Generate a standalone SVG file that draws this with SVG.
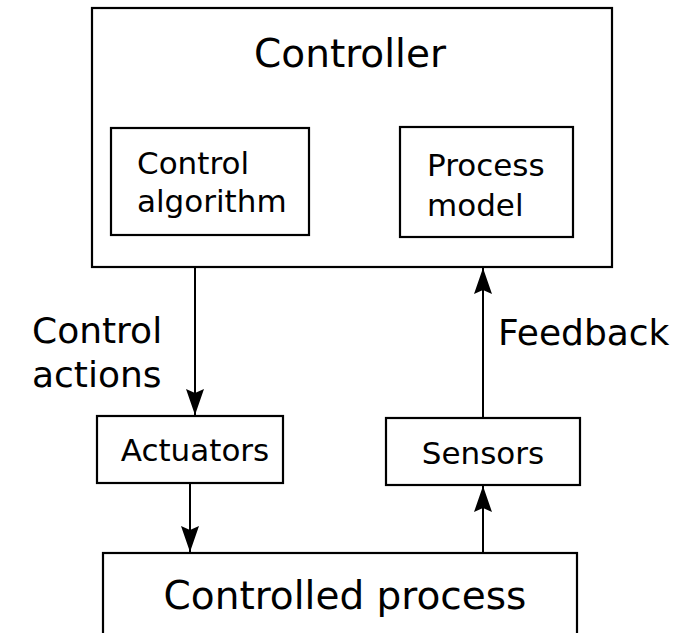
<svg xmlns="http://www.w3.org/2000/svg" width="699" height="633" viewBox="0 0 699 633">
<style>
.box{fill:#fff;stroke:#000;stroke-width:2.2}
.t{font-family:"DejaVu Sans",sans-serif;fill:#000}
.edge{stroke:#000;stroke-width:2;fill:none}
</style>
<defs>
<marker id="ah" viewBox="0 0 26 18" refX="26" refY="9" markerWidth="26" markerHeight="18" markerUnits="userSpaceOnUse" orient="auto">
<path d="M0,0 L26,9 L0,18 L4,9 Z" fill="#000"/>
</marker>
</defs>
<rect width="699" height="633" fill="#fff"/>
<g id="controller">
<rect class="box" x="92" y="8" width="520" height="259"/>
<text class="t" x="350" y="67" font-size="39" text-anchor="middle">Controller</text>
</g>
<g id="control-algorithm">
<rect class="box" x="111" y="128" width="198" height="107"/>
<text class="t" x="137" y="174" font-size="31">Control</text>
<text class="t" x="137" y="212" font-size="31">algorithm</text>
</g>
<g id="process-model">
<rect class="box" x="400" y="127" width="173" height="110"/>
<text class="t" x="427" y="176" font-size="31">Process</text>
<text class="t" x="427" y="216" font-size="31">model</text>
</g>
<g id="actuators">
<rect class="box" x="97" y="416" width="186" height="67"/>
<text class="t" x="195" y="461" font-size="31" text-anchor="middle">Actuators</text>
</g>
<g id="sensors">
<rect class="box" x="386" y="418" width="194" height="67"/>
<text class="t" x="483" y="464" font-size="31" text-anchor="middle">Sensors</text>
</g>
<g id="controlled-process">
<rect class="box" x="103" y="553" width="474" height="100"/>
<text class="t" x="345" y="609" font-size="39" text-anchor="middle">Controlled process</text>
</g>
<g id="connectors">
<line class="edge" x1="195" y1="267" x2="195" y2="415" marker-end="url(#ah)"/>
<line class="edge" x1="483" y1="418" x2="483" y2="268" marker-end="url(#ah)"/>
<line class="edge" x1="190" y1="483" x2="190" y2="552" marker-end="url(#ah)"/>
<line class="edge" x1="483" y1="553" x2="483" y2="486" marker-end="url(#ah)"/>
<text class="t" x="32" y="343" font-size="36">Control</text>
<text class="t" x="32" y="387" font-size="36">actions</text>
<text class="t" x="498" y="345" font-size="36">Feedback</text>
</g>
</svg>
